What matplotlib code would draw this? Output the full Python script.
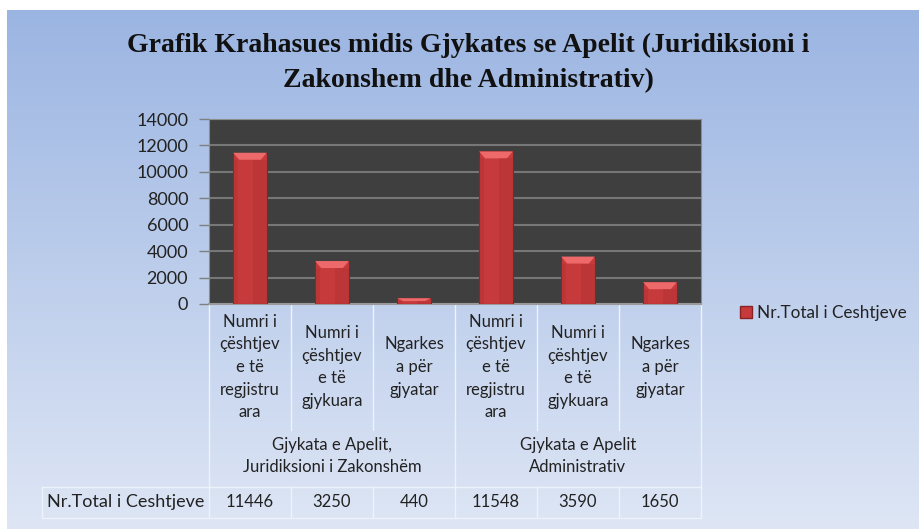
import matplotlib
matplotlib.use("Agg")
import matplotlib.pyplot as plt
import numpy as np
from matplotlib.patches import Rectangle, Polygon, Patch
from matplotlib.transforms import blended_transform_factory

title = "Grafik Krahasues midis Gjykates se Apelit (Juridiksioni i\nZakonshem dhe Administrativ)"
categories = ["Numri i\nçështjev\ne të\nregjistru\nara",
              "Numri i\nçështjev\ne të\ngjykuara",
              "Ngarkes\na për\ngjyatar",
              "Numri i\nçështjev\ne të\nregjistru\nara",
              "Numri i\nçështjev\ne të\ngjykuara",
              "Ngarkes\na për\ngjyatar"]
groups = ["Gjykata e Apelit,\nJuridiksioni i Zakonshëm", "Gjykata e Apelit\nAdministrativ"]
group_size = 3
series_name = "Nr.Total i Ceshtjeve"
values = [11446, 3250, 440, 11548, 3590, 1650]
yticks = [0, 2000, 4000, 6000, 8000, 10000, 12000, 14000]

W, H = 919, 529
fig = plt.figure(figsize=(W / 100, H / 100), dpi=100)
fig.patch.set_facecolor("white")

FONT = "Lato"
fs = 12

# background overlay in pixel coordinates
bg = fig.add_axes([0, 0, 1, 1])
bg.set_xlim(0, W)
bg.set_ylim(H, 0)
bg.axis("off")
top = np.array([0x9B, 0xB5, 0xE2]) / 255
bot = np.array([0xDE, 0xE6, 0xF5]) / 255
t = np.linspace(0, 1, 256)[:, None]
grad = top[None, :] * (1 - t) + bot[None, :] * t
bg.imshow(grad[:, None, :].repeat(2, axis=1), extent=(7, W, H, 10), aspect="auto", zorder=0)

# plot area
L, R, T, B = 209, 701, 119, 304
ax = fig.add_axes([L / W, 1 - B / H, (R - L) / W, (B - T) / H])
ax.set_facecolor("#3F3F3F")
ax.set_xlim(-0.5, len(values) - 0.5)
ax.set_ylim(0, 14000)
ax.set_yticks(yticks)
ax.set_yticklabels([str(v) for v in yticks], fontsize=13, fontfamily=FONT, color="#222222")
ax.set_xticks([])
ax.tick_params(axis="y", length=7, width=1, color="#7F7F7F", pad=8)
ax.grid(axis="y", color="#777777", linewidth=1.5)
ax.set_axisbelow(True)
for s in ["top", "right"]:
    ax.spines[s].set_color("#8C8C8C")
ax.spines["left"].set_color("#8C8C8C")
ax.spines["bottom"].set_color("#9A9A9A")
ax.spines["bottom"].set_linewidth(1.5)

x = np.arange(len(values))
bw = 0.41
bars = ax.bar(x, values, width=bw, color="#C63A3C", edgecolor="#8A2224", linewidth=0.8, zorder=3)
# bevel on top of each bar
px_y = 14000 / (B - T)
px_x = (len(values)) / (R - L)
for rect in bars:
    x0, w, h = rect.get_x(), rect.get_width(), rect.get_height()
    bev = min(7 * px_y, h * 0.5)
    ins = 6 * px_x
    ax.add_patch(Polygon([[x0, h], [x0 + w, h], [x0 + w - ins, h - bev], [x0 + ins, h - bev]],
                         closed=True, facecolor="#EE6A6A", edgecolor="none", zorder=4))
    ax.add_patch(Rectangle((x0 + w * 0.6, 0), w * 0.4, h - bev, facecolor="#A82A2C",
                           alpha=0.3, edgecolor="none", zorder=4))
    ax.add_patch(Rectangle((x0, 0), w * 0.15, h - bev, facecolor="#A82A2C",
                           alpha=0.3, edgecolor="none", zorder=4))

# table below, x in data units, y in pixels
tr = blended_transform_factory(ax.transData, bg.transData)
line_c = "#EEF2FA"
lw = 1.0
n = len(values)
bounds = np.arange(n + 1) - 0.5
for i, b in enumerate(bounds):
    major = (i % group_size == 0)
    if major:
        bg.plot([b, b], [B, 518], transform=tr, color=line_c, lw=lw, zorder=1)
    else:
        bg.plot([b, b], [B, 430], transform=tr, color=line_c, lw=lw, zorder=1)
        bg.plot([b, b], [487, 518], transform=tr, color=line_c, lw=lw, zorder=1)
bg.plot([42, R], [487, 487], color=line_c, lw=lw, zorder=1)
bg.plot([42, R], [518, 518], color=line_c, lw=lw, zorder=1)
bg.plot([42, 42], [487, 518], color=line_c, lw=lw, zorder=1)

for xi, c in zip(x, categories):
    bg.text(xi, 367, c, transform=tr, ha="center", va="center", fontsize=fs,
            fontfamily=FONT, color="#222222", linespacing=1.5, zorder=2)
for gi, g in enumerate(groups):
    gx = gi * group_size + (group_size - 1) / 2
    bg.text(gx, 456, g, transform=tr, ha="center", va="center", fontsize=fs,
            fontfamily=FONT, color="#222222", linespacing=1.5, zorder=2)
for xi, v in zip(x, values):
    bg.text(xi, 502, str(v), transform=tr, ha="center", va="center", fontsize=fs,
            fontfamily=FONT, color="#222222", zorder=2)
bg.text((42 + L) / 2, 502, series_name, ha="center", va="center", fontsize=13,
        fontfamily=FONT, color="#222222", zorder=2)

# title
bg.text(468, 63, title, ha="center", va="center", fontsize=20, fontweight="bold",
        fontfamily="Liberation Serif", color="#111111", linespacing=1.5)

# legend
leg = fig.legend(handles=[Patch(facecolor="#C63A3C", edgecolor="#8A2224", label=series_name)],
                 loc="center left", bbox_to_anchor=(733 / W, 1 - 313 / H), frameon=False,
                 prop={"family": FONT, "size": 12.3}, handlelength=0.7, handleheight=0.7,
                 handletextpad=0.3, borderaxespad=0)
for txt in leg.get_texts():
    txt.set_color("#222222")

fig.savefig("out.png", dpi=100, facecolor=fig.get_facecolor())
